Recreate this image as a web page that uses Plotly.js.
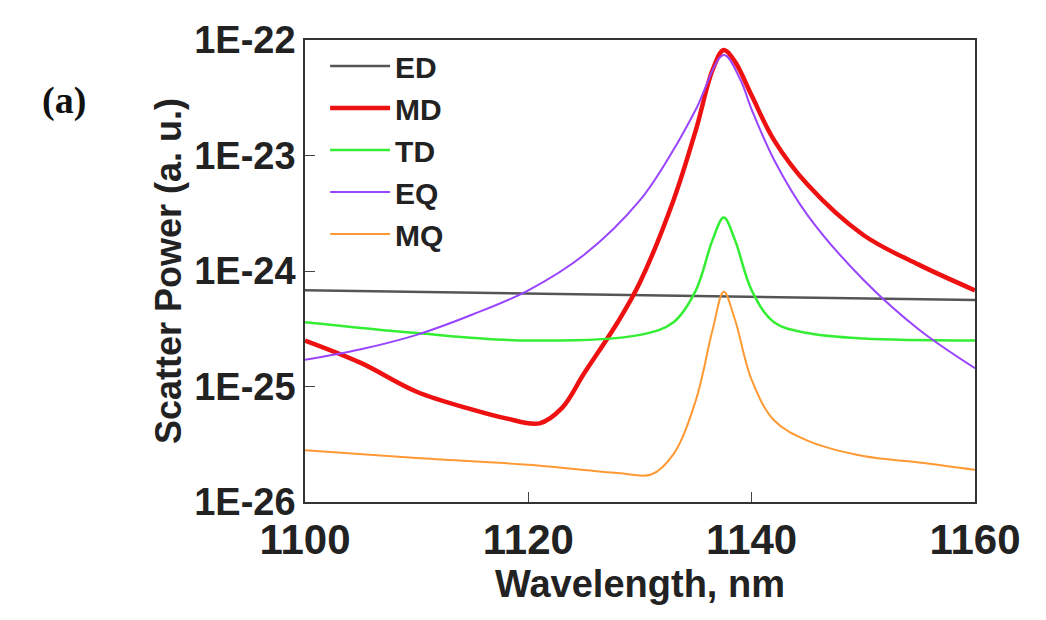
<!DOCTYPE html>
<html>
<head>
<script src="https://cdn.plot.ly/plotly-3.0.1.min.js"></script>
<style>body{margin:0;background:#fff}</style>
</head>
<body>
<div id="graphDiv" style="width:1046px;height:620px"></div>
<script>
var edX = [1100, 1160];
var edY = [6.8e-25, 5.6e-25];

var mdX = [1100, 1105, 1110, 1115, 1118, 1121, 1123, 1125, 1128, 1130, 1133, 1135, 1136.5, 1137.5, 1138.5, 1140, 1142, 1145, 1150, 1155, 1160];
var mdY = [2.5e-25, 1.6e-25, 9e-26, 6.3e-26, 5.3e-26, 4.8e-26, 6.5e-26, 1.3e-25, 3.6e-25, 8e-25, 4.1e-24, 1.66e-23, 5.5e-23, 8.2e-23, 6.5e-23, 3.3e-23, 1.36e-23, 5.6e-24, 2.05e-24, 1.13e-24, 6.8e-25];

var tdX = [1100, 1110, 1120, 1130, 1133, 1135, 1136.5, 1137.5, 1138.5, 1140, 1142, 1145, 1150, 1160];
var tdY = [3.6e-25, 2.9e-25, 2.5e-25, 2.8e-25, 3.6e-25, 6.8e-25, 1.86e-24, 2.9e-24, 1.86e-24, 6.8e-25, 3.6e-25, 2.9e-25, 2.6e-25, 2.5e-25];

var eqX = [1100, 1105, 1110, 1115, 1120, 1125, 1130, 1133, 1135, 1137.5, 1139, 1140, 1142, 1145, 1150, 1155, 1160];
var eqY = [1.7e-25, 2.1e-25, 2.8e-25, 4.2e-25, 6.8e-25, 1.38e-24, 4.1e-24, 1.12e-23, 2.5e-23, 7.4e-23, 4.5e-23, 2.5e-23, 9.2e-24, 3.05e-24, 8.4e-25, 3.1e-25, 1.44e-25];

var mqX = [1100, 1110, 1120, 1128, 1131, 1133, 1135, 1136.5, 1137.5, 1138.5, 1140, 1142, 1145, 1150, 1155, 1160];
var mqY = [2.8e-26, 2.4e-26, 2.1e-26, 1.78e-26, 1.73e-26, 2.6e-26, 7.6e-26, 3.1e-25, 6.6e-25, 3.8e-25, 1.14e-25, 5.1e-26, 3.4e-26, 2.5e-26, 2.2e-26, 1.9e-26];

var yTicks = [1e-26, 1e-25, 1e-24, 1e-23, 1e-22];
var yTickText = ['1E-26', '1E-25', '1E-24', '1E-23', '1E-22'];

function line(name, x, y, color, w) {
  return {x: x, y: y, name: name, type: 'scatter', mode: 'lines',
    line: {color: color, width: w, shape: 'spline', smoothing: 1}};
}

var data = [
  line('ED', edX, edY, '#555555', 2.5),
  line('MD', mdX, mdY, '#ee1111', 4.5),
  line('TD', tdX, tdY, '#33ee33', 2.5),
  line('EQ', eqX, eqY, '#9944ff', 2),
  line('MQ', mqX, mqY, '#ff9933', 2)
];

var layout = {
  width: 1046, height: 620,
  margin: {l: 305, r: 71, t: 40, b: 118},
  paper_bgcolor: '#fff', plot_bgcolor: '#fff',
  font: {family: 'Arial, Liberation Sans', color: '#222'},
  showlegend: true,
  legend: {x: 0.03, y: 1.0, xanchor: 'left', yanchor: 'top', bgcolor: 'rgba(0,0,0,0)',
    font: {size: 30, color: '#222', weight: 'bold'}, tracegroupgap: 0, itemwidth: 60},
  xaxis: {range: [1100, 1160], tickvals: [1100, 1120, 1140, 1160], ticks: 'inside', ticklen: 10,
    showgrid: false, zeroline: false,
    showline: true, mirror: true, linecolor: '#333', linewidth: 1.5,
    tickfont: {size: 42, color: '#222', weight: 'bold'},
    title: {text: '<b>Wavelength, nm</b>', font: {size: 38, color: '#222'}, standoff: 0}},
  yaxis: {type: 'log', range: [-26, -22], tickvals: yTicks, ticktext: yTickText, ticks: 'inside', ticklen: 10,
    showgrid: false, zeroline: false, showline: true, mirror: true, linecolor: '#333', linewidth: 1.5,
    tickfont: {size: 38, color: '#222', weight: 'bold'},
    title: {text: '<b>Scatter Power (a. u.)</b>', font: {size: 36, color: '#222'}, standoff: 2}},
  annotations: [{text: '<b>(a)</b>', xref: 'paper', yref: 'paper', x: -0.36, y: 0.92, xanchor: 'center',
    showarrow: false, font: {family: 'Liberation Serif, Times New Roman', size: 38, color: '#111'}}]
};

Plotly.newPlot('graphDiv', data, layout, {displayModeBar: false});
</script>
</body>
</html>
